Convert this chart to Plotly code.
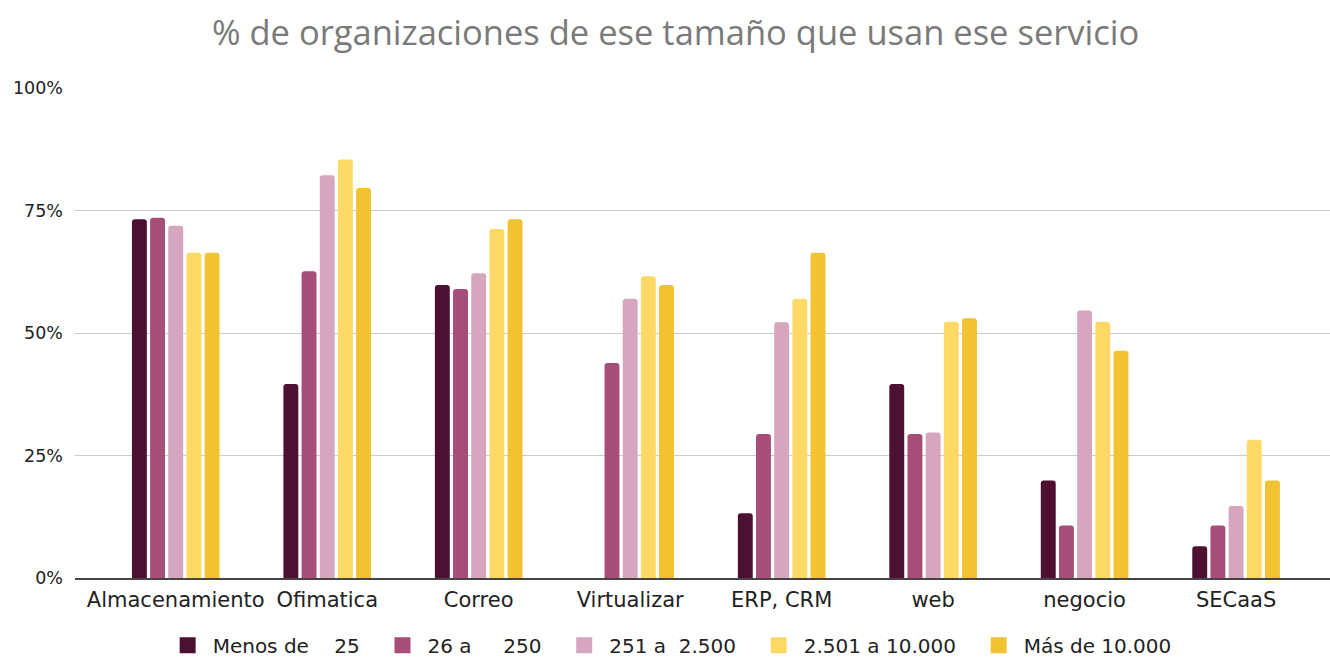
import plotly.graph_objects as go

categories = ["Almacenamiento", "Ofimatica", "Correo", "Virtualizar", "ERP, CRM", "web", "negocio", "SECaaS"]
series_names = ["Menos de\u00a0\u00a0\u00a0\u00a025", "26 a\u00a0\u00a0\u00a0\u00a0\u00a0250", "251 a\u00a0\u00a02.500", "2.501 a 10.000", "Más de 10.000"]
menos_25 = [73.2, 39.6, 59.8, 0, 13.2, 39.6, 19.9, 6.5]
de_26_250 = [73.5, 62.6, 59.0, 43.9, 29.4, 29.4, 10.7, 10.7]
de_251_2500 = [71.9, 82.2, 62.2, 57.0, 52.2, 29.7, 54.6, 14.7]
de_2501_10000 = [66.4, 85.4, 71.2, 61.6, 57.0, 52.3, 52.3, 28.2]
mas_10000 = [66.4, 79.6, 73.2, 59.8, 66.4, 53.0, 46.4, 19.9]
tick_vals = [0, 25, 50, 75, 100]
tick_text = ["0%", "25%", "50%", "75%", "100%"]

colors = ["#4c1130", "#a64d79", "#d5a6bd", "#ffd966", "#f1c232"]
values = [menos_25, de_26_250, de_251_2500, de_2501_10000, mas_10000]

fig = go.Figure()
for name, vals, col in zip(series_names, values, colors):
    fig.add_trace(go.Bar(x=categories, y=vals, name=name, showlegend=False,
                         marker=dict(color=col, line=dict(width=0))))
# legend entries with larger square swatches (padding keeps the reference spacing)
for name, col in zip(series_names, colors):
    fig.add_trace(go.Scatter(x=[None], y=[None], mode="markers", name=name + "\u00a0\u00a0",
                             marker=dict(symbol="square", size=18, color=col)))

fig.update_layout(
    width=1330, height=658,
    paper_bgcolor="white", plot_bgcolor="white",
    margin=dict(l=75, r=0, t=88, b=80, autoexpand=False),
    barmode="group", bargap=0.4, bargroupgap=0.18, barcornerradius=3,
    title=dict(text="% de organizaciones de ese tamaño que usan ese servicio",
               x=0.508, xanchor="center", y=0.95, yref="container", yanchor="middle",
               font=dict(family="Open Sans", size=34.5, color="#7a7a7a")),
    font=dict(family="DejaVu Sans", color="#222222"),
    legend=dict(orientation="h", x=0.479, xanchor="center", y=-0.137, yanchor="middle",
                font=dict(family="DejaVu Sans", size=20, color="#222222"),
                itemwidth=40, traceorder="normal", tracegroupgap=0),
    xaxis=dict(range=[-0.665, 7.62], showgrid=False, showline=True, linecolor="#444444", linewidth=1.5,
               ticks="", tickfont=dict(family="DejaVu Sans", size=21, color="#222222"),
               ticklabelstandoff=2, fixedrange=True, automargin=False),
    yaxis=dict(range=[0, 100], tickvals=tick_vals, ticktext=tick_text, showgrid=True,
               gridcolor="#cccccc", gridwidth=1, zeroline=False, ticks="", ticklen=0,
               tickfont=dict(family="DejaVu Sans", size=17.5, color="#222222"),
               ticklabelstandoff=11, fixedrange=True, automargin=False),
)

fig.write_html("out.html", config={"displayModeBar": False},
               post_script="document.body.style.margin='0';")
